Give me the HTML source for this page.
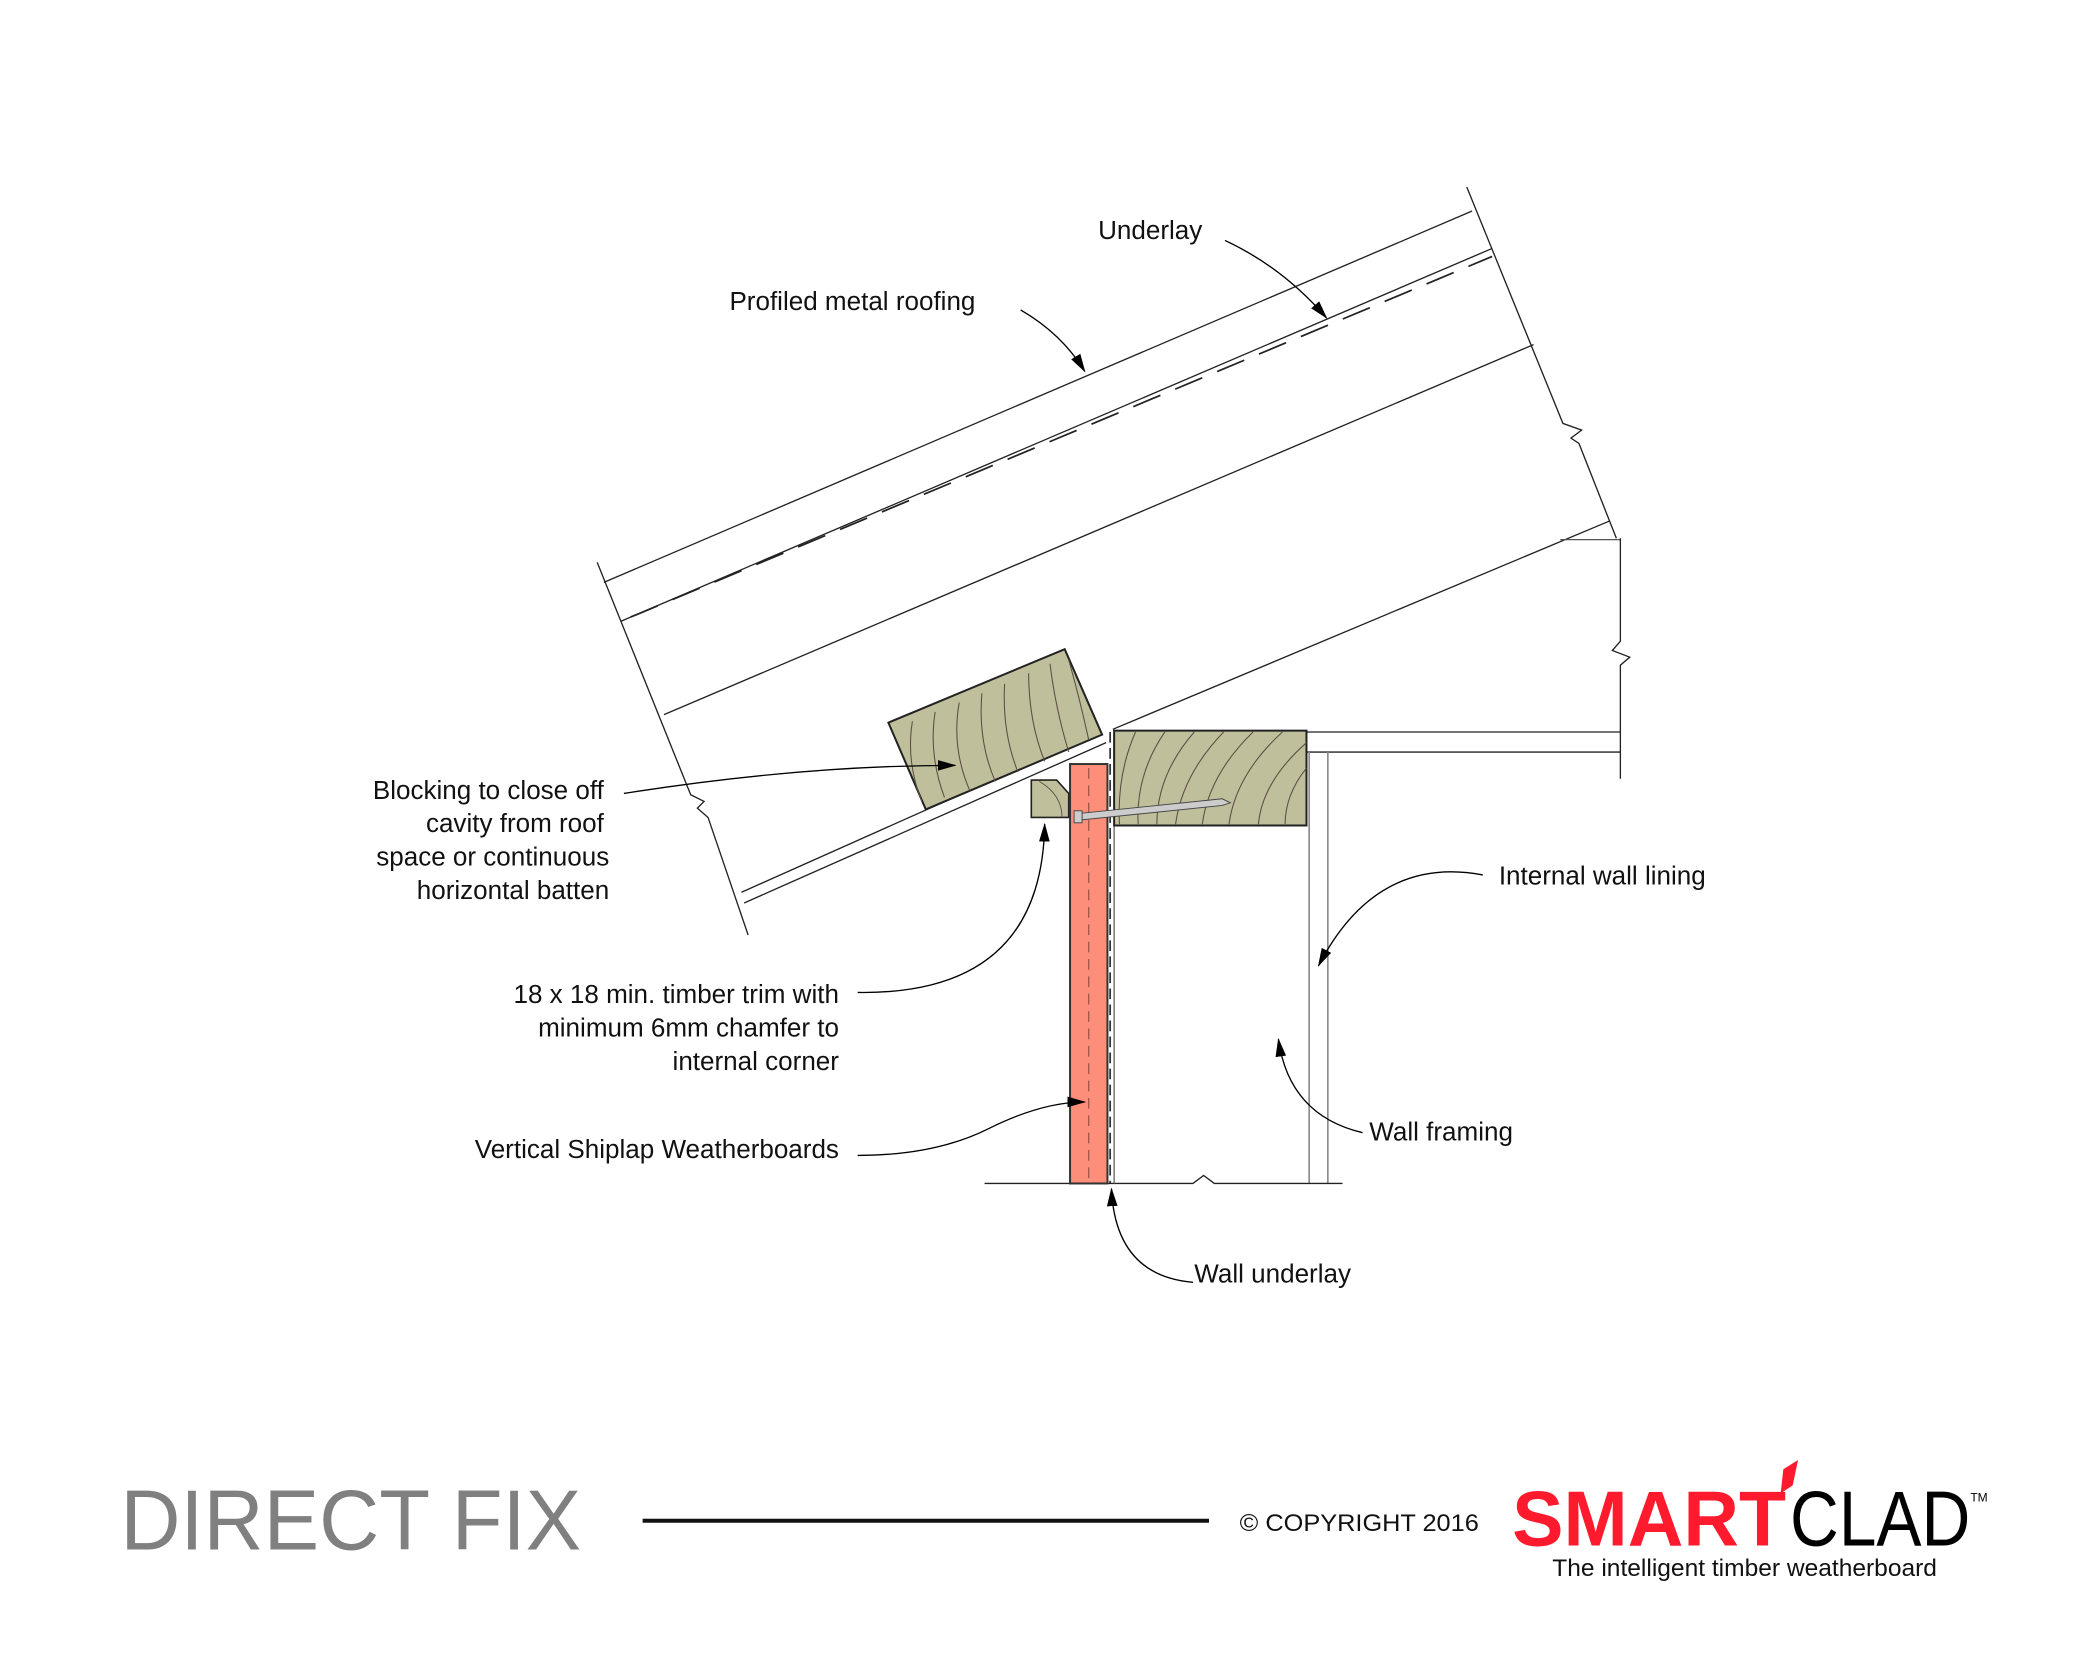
<!DOCTYPE html>
<html><head><meta charset="utf-8"><style>
html,body{margin:0;padding:0;background:#fff;}
svg{display:block;}
text{font-family:"Liberation Sans",sans-serif;}
</style></head><body>
<svg width="2084" height="1667" viewBox="0 0 1560 1248" xmlns="http://www.w3.org/2000/svg">
<defs>
<marker id="ar" markerWidth="14" markerHeight="8" refX="13" refY="4" orient="auto" markerUnits="userSpaceOnUse">
<path d="M0,0 L14,4 L0,8 z" fill="#000"/></marker>
</defs>
<g stroke="#222" stroke-width="1" fill="none">
<!-- roof lines -->
<line x1="452" y1="436" x2="1102" y2="158"/>
<line x1="465" y1="465" x2="1117" y2="186"/>
<line x1="472" y1="462" x2="1117" y2="192" stroke-dasharray="22,12" stroke-width="1.3"/>
<line x1="497" y1="535" x2="1148" y2="258"/>
<line x1="833" y1="546" x2="1205" y2="390"/>
<line x1="555" y1="668" x2="824" y2="548"/>
<line x1="557" y1="676" x2="828" y2="556"/>
<!-- left cut edge -->
<polyline points="447,421 517,595 527,600 522,605 530,612 560,700"/>
<!-- right cut edge -->
<polyline points="1098,140 1170,317 1184,322 1176,328 1182,332 1210,403"/>
<line x1="1168" y1="404" x2="1213" y2="404" stroke="#555"/>
<polyline points="1213,403 1213,480 1207,487 1220,492 1213,498 1213,583"/>
<!-- ceiling -->
<line x1="978" y1="548" x2="1213" y2="548"/>
<line x1="978" y1="563" x2="1213" y2="563"/>
<!-- lining -->
<line x1="980" y1="563" x2="980" y2="886" stroke="#888" stroke-width="1.2"/>
<line x1="994" y1="563" x2="994" y2="886" stroke="#888" stroke-width="1.2"/>
<!-- bottom line -->
<polyline points="737,886 893,886 901,880 909,886 1005,886"/>
<!-- wall underlay -->
<line x1="831" y1="548" x2="831" y2="886" stroke-dasharray="8,4" stroke-width="1.2"/>
<line x1="834" y1="618" x2="834" y2="886" stroke="#666"/>
</g>
<!-- blocking -->
<polygon points="665,541 797,486 825,550 693,606" fill="#bfbf9b" stroke="#222" stroke-width="1.5"/>
<g stroke="#5a5045" stroke-width="0.8" fill="none">
<path d="M683,540 Q678,570 690,600"/><path d="M700,533 Q695,565 707,597"/><path d="M718,526 Q712,560 726,592"/>
<path d="M735,519 Q732,555 745,585"/><path d="M752,512 Q750,548 762,578"/><path d="M770,504 Q770,540 782,570"/>
<path d="M786,497 Q790,530 800,563"/><path d="M800,494 Q808,522 815,554"/>
</g>
<!-- top plate -->
<rect x="834" y="547" width="144" height="71" fill="#bfbf9b" stroke="#222" stroke-width="1.5"/>
<g stroke="#5a5045" stroke-width="0.8" fill="none">
<path d="M850,548 Q836,580 838,617"/><path d="M872,548 Q850,580 852,617"/><path d="M894,548 Q866,580 866,617"/>
<path d="M916,548 Q885,580 880,617"/><path d="M938,548 Q905,580 900,617"/><path d="M960,548 Q925,580 920,617"/>
<path d="M978,556 Q945,585 942,617"/><path d="M978,575 Q962,595 962,617"/>
</g>
<!-- trim -->
<polygon points="772,584 791,584 800,594 800,612 772,612" fill="#bfbf9b" stroke="#222" stroke-width="1.2"/>
<path d="M778,585 Q795,595 795,612" stroke="#5a5045" stroke-width="0.7" fill="none"/>
<!-- weatherboard -->
<rect x="801" y="572" width="28" height="314" fill="#fc8e7a" stroke="#333" stroke-width="1.5"/>
<line x1="815" y1="575" x2="815" y2="884" stroke="#8a4a40" stroke-width="0.8" stroke-dasharray="8,5"/>
<!-- nail -->
<polygon points="808,609 915,598 921,601 915,603 808,614" fill="#ccc" stroke="#444" stroke-width="0.7"/>
<rect x="804" y="607" width="6" height="9" fill="#ccc" stroke="#444" stroke-width="0.7"/>
<!-- leaders -->
<g stroke="#000" stroke-width="1" fill="none" marker-end="url(#ar)">
<path d="M917,180 Q960,200 993,238"/>
<path d="M764,232 Q795,250 812,278"/>
<path d="M467,594 Q600,573 715,573"/>
<path d="M642,743 Q780,745 782,617"/>
<path d="M642,865 Q700,865 740,845 Q780,825 812,825"/>
<path d="M1110,655 Q1030,640 987,723"/>
<path d="M1020,848 Q965,835 957,778"/>
<path d="M893,960 Q835,955 832,890"/>
</g>
<!-- labels -->
<g font-size="19.5" fill="#111">
<text x="822" y="179">Underlay</text>
<text x="546" y="232">Profiled metal roofing</text>
<g text-anchor="end">
<text x="452" y="598">Blocking to close off</text>
<text x="452" y="623">cavity from roof</text>
<text x="456" y="648">space or continuous</text>
<text x="456" y="673">horizontal batten</text>
<text x="628" y="751">18 x 18 min. timber trim with</text>
<text x="628" y="776">minimum 6mm chamfer to</text>
<text x="628" y="801">internal corner</text>
<text x="628" y="867">Vertical Shiplap Weatherboards</text>
</g>
<text x="1122" y="662">Internal wall lining</text>
<text x="1025" y="854">Wall framing</text>
<text x="894" y="960">Wall underlay</text>
</g>
<!-- footer -->
<text x="90" y="1160" font-size="64" fill="#808080" font-weight="300" textLength="345" lengthAdjust="spacingAndGlyphs">DIRECT FIX</text>
<rect x="481" y="1137" width="424" height="3" fill="#111"/>
<text x="928" y="1146" font-size="18" fill="#111" textLength="179" lengthAdjust="spacingAndGlyphs">© COPYRIGHT 2016</text>
<text x="1132" y="1157" font-size="58" font-weight="bold" fill="#ff1a2e" textLength="205" lengthAdjust="spacingAndGlyphs">SMART</text>
<polygon points="1335,1100 1346,1093 1342,1112 1333,1118" fill="#ff1a2e"/>
<text x="1340" y="1157" font-size="58" fill="#000" textLength="135" lengthAdjust="spacingAndGlyphs">CLAD</text>
<text x="1475" y="1124" font-size="9" fill="#000">TM</text>
<text x="1162" y="1180" font-size="18" fill="#111" textLength="288" lengthAdjust="spacingAndGlyphs">The intelligent timber weatherboard</text>
</svg>
</body></html>
